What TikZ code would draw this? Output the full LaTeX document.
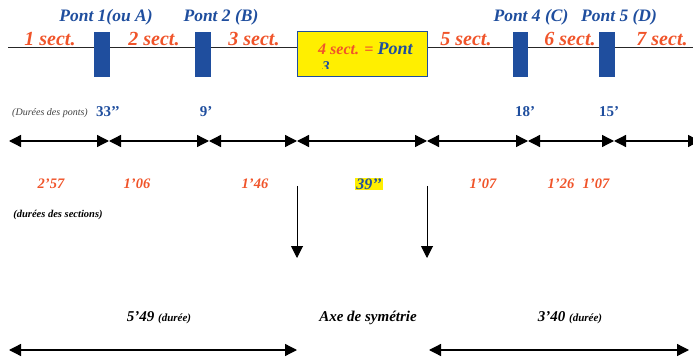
\documentclass[tikz,border=0pt]{standalone}
\usepackage{fontspec}
\setmainfont{Liberation Serif}
\usetikzlibrary{arrows.meta,positioning}
\definecolor{pontblue}{HTML}{1F4E9E}
\definecolor{sectred}{HTML}{F0542A}
\definecolor{boxyellow}{HTML}{FFEF00}
\begin{document}
\begin{tikzpicture}[x=1pt,y=-1pt,
  pontbox/.style={fill=pontblue,minimum width=15.5pt,minimum height=45pt,inner sep=0pt},
  ponttxt/.style={text=pontblue,inner sep=0pt,font=\fontsize{17.5}{19}\selectfont\bfseries\itshape},
  secttxt/.style={text=sectred,inner sep=0pt,font=\fontsize{20}{22}\selectfont\bfseries\itshape},
  durtxt/.style={text=sectred,inner sep=0pt,font=\fontsize{14.5}{16}\selectfont\bfseries\itshape},
  ponttime/.style={text=pontblue,inner sep=0pt,font=\fontsize{15}{17}\selectfont\bfseries},
  totaltxt/.style={inner sep=0pt,font=\fontsize{15}{17}\selectfont\bfseries\itshape},
  span/.style={line width=1.3pt,{Triangle[length=12pt,width=12pt]}-{Triangle[length=12pt,width=12pt]}},
  drop/.style={line width=1pt,-{Triangle[length=12pt,width=12pt]}}]
\useasboundingbox (0,0) rectangle (693,358);
% ligne des sections
\coordinate (lineL) at (8,47);
\coordinate (lineR) at (700,47);
\draw[line width=0.8pt,black!85] (lineL)--(lineR);
\node[pontbox] (p1) at (102,54.5) {};
\node[pontbox] (p2) at (203,54.5) {};
\node[pontbox] (p4) at (520.5,54.5) {};
\node[pontbox] (p5) at (607,54.5) {};
\node[draw=pontblue,line width=1pt,fill=boxyellow,minimum width=130pt,minimum height=45pt,inner sep=0pt] (p3) at (362,54.5) {};
\node[anchor=west,inner sep=0pt,font=\fontsize{16}{18}\selectfont\bfseries\itshape] (p3txt) at (318,49)
  {\textcolor{sectred}{4 sect. =} \textcolor{pontblue}{\fontsize{18}{20}\selectfont Pont}};
\begin{scope}
\clip (300,55) rectangle (420,68.5);
\node[anchor=north west,inner sep=0pt,text=pontblue,font=\fontsize{15}{17}\selectfont\bfseries\itshape] (p3num) at (322,61) {3};
\end{scope}
\node[ponttxt] (p1lab) at (106,17) {Pont 1(ou A)};
\node[ponttxt] (p2lab) at (221,17) {Pont 2 (B)};
\node[ponttxt] (p4lab) at (531,17) {Pont 4 (C)};
\node[ponttxt] (p5lab) at (619,17) {Pont 5 (D)};
\node[secttxt] (s1) at (50,39) {1 sect.};
\node[secttxt] (s2) at (154,39) {2 sect.};
\node[secttxt] (s3) at (254,39) {3 sect.};
\node[secttxt] (s5) at (466,39) {5 sect.};
\node[secttxt] (s6) at (570,39) {6 sect.};
\node[secttxt] (s7) at (662,39) {7 sect.};
% durees des ponts
\node[inner sep=0pt,text=black!75,font=\fontsize{10}{12}\selectfont\itshape] (dp) at (50,113) {(Durées des ponts)};
\node[ponttime] (t1) at (108,112) {33’’};
\node[ponttime] (t2) at (206,112) {9’};
\node[ponttime] (t4) at (525,112) {18’};
\node[ponttime] (t5) at (609,112) {15’};
\foreach \x [count=\i from 0] in {9,109,209,297,427,528,614,700}
  \coordinate (a\i) at (\x,141);
\foreach \i/\j in {0/1,1/2,2/3,3/4,4/5,5/6,6/7}
  \draw[span] (a\i)--(a\j);
% durees des sections
\node[durtxt] (d1) at (51,184) {2’57};
\node[durtxt] (d2) at (137,184) {1’06};
\node[durtxt] (d3) at (255,184) {1’46};
\node[fill=boxyellow,inner sep=1pt,text=pontblue,font=\fontsize{16}{18}\selectfont\bfseries\itshape] (d4) at (369,184) {39’’};
\node[durtxt] (d5) at (483,184) {1’07};
\node[durtxt] (d6) at (561,184) {1’26};
\node[durtxt] (d7) at (596,184) {1’07};
\node[inner sep=0pt,font=\fontsize{10.5}{12}\selectfont\bfseries\itshape] (ds) at (58,215) {(durées des sections)};
\coordinate (v1top) at (297,186);
\coordinate (v1bot) at (297,258);
\coordinate (v2top) at (427,186);
\coordinate (v2bot) at (427,258);
\draw[drop] (v1top)--(v1bot);
\draw[drop] (v2top)--(v2bot);
% axe de symetrie
\node[totaltxt] (tot1) at (159,318) {5’49 {\fontsize{11}{13}\selectfont(durée)}};
\node[totaltxt] (axe) at (368,318) {Axe de symétrie};
\node[totaltxt] (tot2) at (570,318) {3’40 {\fontsize{11}{13}\selectfont(durée)}};
\coordinate (b0) at (9,350);
\coordinate (b1) at (297,350);
\coordinate (b2) at (429,350);
\coordinate (b3) at (689,350);
\draw[span] (b0)--(b1);
\draw[span] (b2)--(b3);
\end{tikzpicture}
\end{document}
